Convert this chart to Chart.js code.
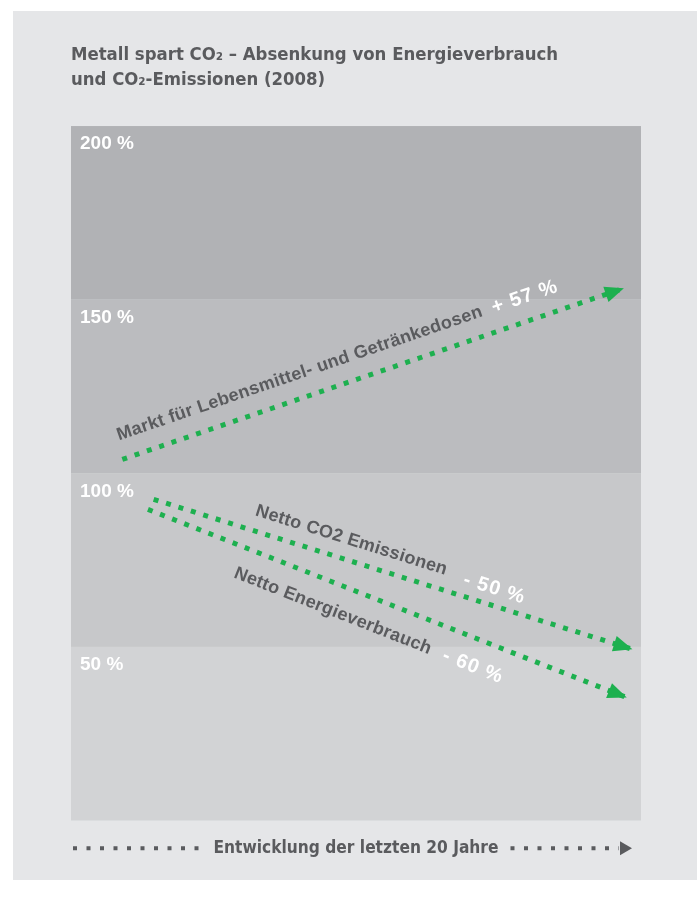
<!DOCTYPE html>
<html lang="de">
<head>
<meta charset="utf-8">
<title>Metall spart CO2</title>
<script src="https://cdn.jsdelivr.net/npm/chart.js@4.4.1/dist/chart.umd.min.js"></script>
<style>
  html, body { margin: 0; padding: 0; background: #fff; }
  #panel { position: absolute; left: 13px; top: 11px; width: 684px; height: 869px; background: #e5e6e8; }
</style>
</head>
<body>
<div id="panel"><canvas id="chart"></canvas></div>
<script>
// Werte
const titleLines = ['Metall spart CO₂ – Absenkung von Energieverbrauch', 'und CO₂-Emissionen (2008)'];
const xAxisTitle = 'Entwicklung der letzten 20 Jahre';
const yTicks = [0, 50, 100, 150, 200];
const marktJahre = [1.8, 19.4];
const marktWerte = [104, 153.3];
const co2Jahre = [2.9, 19.7];
const co2Werte = [92.5, 49.3];
const energieJahre = [2.7, 19.5];
const energieWerte = [89.6, 35.4];
const serienNamen = ['Markt für Lebensmittel- und Getränkedosen', 'Netto CO2 Emissionen', 'Netto Energieverbrauch'];
const serienAenderung = ['+ 57 %', '- 50 %', '- 60 %'];

const GREEN = '#1db04f';
const DARK = '#5a5b5e';
const NARROW = '"Liberation Sans Narrow", "DejaVu Sans Condensed", sans-serif';
const bandColors = ['#d2d3d5', '#c7c8ca', '#bbbcbf', '#b1b2b5']; // von unten nach oben
// Textlage relativ zum Linienanfang (entlang / quer zur Linie, px)
const textLage = [
    { s: 3, n: -19, ps: 399, pn: -18 },
    { s: 101, n: -15, ps: 320, pn: -11 },
    { s: 104, n: 32, ps: 328, pn: 33 }
];

const toPts = (xs, ys) => xs.map((x, i) => ({ x, y: ys[i] }));

// Hintergrundbänder je 50 %
const bandPlugin = {
    id: 'baender',
    beforeDraw(chart) {
        const { ctx, chartArea: a, scales: { y } } = chart;
        ctx.save();
        for (let i = 0; i < yTicks.length - 1; i++) {
            const top = y.getPixelForValue(yTicks[i + 1]);
            const bot = y.getPixelForValue(yTicks[i]);
            ctx.fillStyle = bandColors[i];
            ctx.fillRect(a.left, top, a.right - a.left, bot - top);
        }
        ctx.restore();
    }
};

// Pfeilspitzen + schräge Beschriftungen
const linienPlugin = {
    id: 'linienText',
    afterDatasetsDraw(chart) {
        const ctx = chart.ctx;
        chart.data.datasets.forEach((ds, i) => {
            const pts = chart.getDatasetMeta(i).data;
            const a = pts[0], b = pts[pts.length - 1];
            const ang = Math.atan2(b.y - a.y, b.x - a.x);
            ctx.save();
            ctx.translate(b.x, b.y);
            ctx.rotate(ang);
            ctx.fillStyle = GREEN;
            ctx.beginPath();
            ctx.moveTo(0, 0); ctx.lineTo(-19, -8); ctx.lineTo(-19, 8);
            ctx.closePath(); ctx.fill();
            ctx.restore();

            const p = textLage[i];
            ctx.save();
            ctx.translate(a.x, a.y);
            ctx.rotate(ang);
            ctx.textAlign = 'left';
            ctx.textBaseline = 'alphabetic';
            ctx.font = 'bold 18px "Liberation Sans", Arial, sans-serif';
            ctx.letterSpacing = '0.3px';
            ctx.fillStyle = DARK;
            ctx.fillText(serienNamen[i], p.s, p.n);
            ctx.font = 'bold 20px "Liberation Sans", Arial, sans-serif';
            ctx.letterSpacing = '1px';
            ctx.fillStyle = '#ffffff';
            ctx.fillText(serienAenderung[i], p.ps, p.pn);
            ctx.restore();
        });
    }
};

// gepunktete Zeitachse unten
const zeitachsePlugin = {
    id: 'zeitachse',
    afterDraw(chart) {
        const { ctx, chartArea: a, scales: { x } } = chart;
        const t = x.options.title;
        const lh = t.font.size * t.font.lineHeight;
        const yy = x.bottom - t.padding.bottom - lh / 2;
        ctx.save();
        ctx.font = `bold ${t.font.size}px ${NARROW}`;
        const w = ctx.measureText(xAxisTitle).width;
        const cx = (a.left + a.right) / 2;
        ctx.strokeStyle = DARK;
        ctx.fillStyle = DARK;
        ctx.lineWidth = 4;
        ctx.setLineDash([4, 9.5]);
        ctx.beginPath();
        ctx.moveTo(a.left + 2, yy); ctx.lineTo(cx - w / 2 - 14, yy);
        ctx.moveTo(cx + w / 2 + 12, yy); ctx.lineTo(a.right - 22, yy);
        ctx.stroke();
        ctx.beginPath();
        ctx.moveTo(a.right - 9, yy); ctx.lineTo(a.right - 21, yy - 7); ctx.lineTo(a.right - 21, yy + 7);
        ctx.closePath(); ctx.fill();
        ctx.restore();
    }
};

const lineStyle = {
    borderColor: GREEN, borderWidth: 5, borderDash: [5, 8], borderCapStyle: 'butt',
    pointRadius: 0, fill: false, tension: 0
};

new Chart(document.getElementById('chart'), {
    type: 'line',
    data: {
        datasets: [
            { label: serienNamen[0], data: toPts(marktJahre, marktWerte), ...lineStyle },
            { label: serienNamen[1], data: toPts(co2Jahre, co2Werte), ...lineStyle },
            { label: serienNamen[2], data: toPts(energieJahre, energieWerte), ...lineStyle }
        ]
    },
    options: {
        responsive: true,
        maintainAspectRatio: false,
        animation: false,
        layout: { padding: { left: 58, right: 56, top: 20, bottom: 21 } },
        plugins: {
            legend: { display: false },
            tooltip: { enabled: false },
            title: {
                display: true,
                text: titleLines,
                align: 'start',
                color: DARK,
                font: { family: NARROW, size: 18.4, weight: 'bold', lineHeight: 1.36 },
                padding: { top: 12, bottom: 33 }
            }
        },
        scales: {
            x: {
                type: 'linear', min: 0, max: 20,
                grid: { display: false, drawTicks: false },
                border: { display: false },
                ticks: { display: false },
                title: {
                    display: true, text: xAxisTitle, color: DARK,
                    font: { family: NARROW, size: 17.2, weight: 'bold', lineHeight: 1.25 },
                    padding: { top: 17, bottom: 0 }
                }
            },
            y: {
                min: 0, max: 200,
                afterBuildTicks: (s) => { s.ticks = yTicks.map(v => ({ value: v })); },
                afterFit: (s) => { s.width = 0; },
                grid: { display: false, drawTicks: false },
                border: { display: false },
                ticks: {
                    mirror: true, padding: 9, labelOffset: 18, color: '#ffffff',
                    font: { family: '"Liberation Sans", Arial, sans-serif', size: 19, weight: 'bold' },
                    callback: (v) => v === 0 ? '' : v + ' %'
                }
            }
        }
    },
    plugins: [bandPlugin, linienPlugin, zeitachsePlugin]
});
</script>
</body>
</html>
